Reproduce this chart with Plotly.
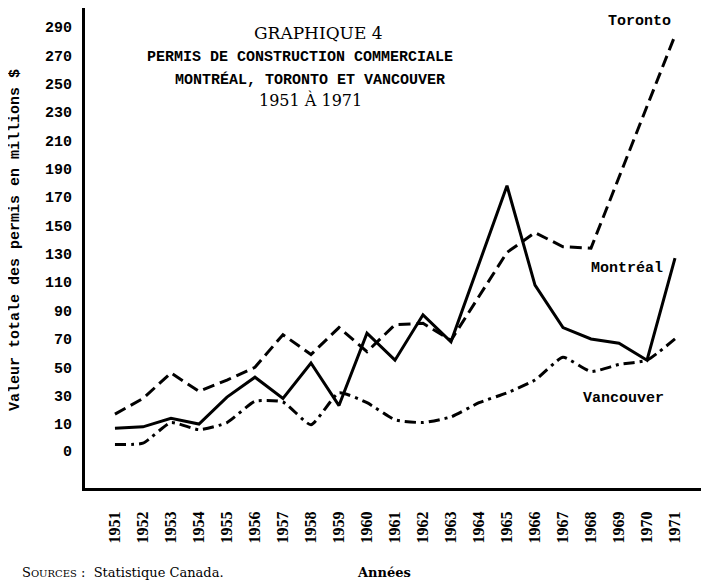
import plotly.graph_objects as go

years = list(range(1951, 1972))
montreal = [7, 8, 14, 10, 29, 43, 28, 53, 23, 74, 55, 87, 68, 123, 178, 108, 78, 70, 67, 55, 127]
toronto = [17, 28, 46, 33, 41, 50, 73, 59, 78, 61, 80, 81, 69, 100, 131, 145, 135, 134, 184, 235, 284]
vancouver = [-4.5, -3.5, 11, 6, 11, 26, 25.5, 9.5, 32, 25, 13, 11, 15, 25, 32, 41, 57, 47, 52, 55, 70]

ytick_vals = [-9, 10, 30, 50, 70, 90, 110, 130, 150, 170, 190, 210, 230, 250, 270, 290]
ytick_text = ["0"] + [str(v) for v in ytick_vals[1:]]

# page is rendered with the default 8px body margin
OFF = 8
W, H = 709 - OFF, 582 - OFF
L, R, T, B = 85, 703, 8, 488  # page pixel coords of the plot area

def xp(px):
    return (px - L) / (R - L)

def yp(py):
    return (B - py) / (B - T)

mono = "Liberation Mono"
serif = "DejaVu Serif"

fig = go.Figure()
fig.add_trace(go.Scatter(x=years, y=montreal, mode="lines", name="Montréal",
                         line=dict(color="black", width=3)))
fig.add_trace(go.Scatter(x=years, y=toronto, mode="lines", name="Toronto",
                         line=dict(color="black", width=3, dash="12px,6px")))
fig.add_trace(go.Scatter(x=years, y=vancouver, mode="lines", name="Vancouver",
                         line=dict(color="black", width=3, dash="11px,5px,3px,5px",
                                   shape="spline", smoothing=0.5)))

ann = []
def add(text, px, py, size, family, xanchor="center", bold=False, textangle=0):
    ann.append(dict(text=f"<b>{text}</b>" if bold else text, x=xp(px), y=yp(py),
                    xref="paper", yref="paper", showarrow=False, xanchor=xanchor,
                    yanchor="middle", textangle=textangle,
                    font=dict(size=size, family=family, color="black")))

add("GRAPHIQUE 4", 318, 33, 17, serif)
add("PERMIS DE CONSTRUCTION COMMERCIALE", 300, 58, 15, mono, bold=True)
add("MONTRÉAL, TORONTO ET VANCOUVER", 310, 80, 15, mono, bold=True)
add("1951 À 1971", 310, 100, 16, serif)
add("Toronto", 639, 21, 15, mono, bold=True)
add("Montréal", 627, 268, 15, mono, bold=True)
add("Vancouver", 623, 398, 15, mono, bold=True)
add("Valeur totale des permis en millions $", 16, 240, 15, mono, bold=True, textangle=-90)
add("S<span style='font-size:10px'>OURCES</span> :  Statistique Canada.", 20, 572, 13, serif, xanchor="left")
add("Années", 355, 572, 13, serif, xanchor="left", bold=True)

fig.update_layout(
    width=W, height=H,
    margin=dict(l=L - OFF, r=709 - R, t=T - OFF, b=582 - B),
    paper_bgcolor="white", plot_bgcolor="white",
    showlegend=False,
    annotations=ann,
    xaxis=dict(range=[1949.93, 1972.0], tickmode="array", tickvals=years,
               ticktext=[str(y) for y in years], tickangle=-90,
               tickfont=dict(family="Liberation Serif", size=16, color="black", weight="bold"),
               showline=True, linewidth=3, linecolor="black", showgrid=False,
               zeroline=False, ticks="", ticklabelstandoff=14, automargin=False),
    yaxis=dict(range=[-35.13, 303.37], tickmode="array", tickvals=ytick_vals,
               ticktext=ytick_text,
               tickfont=dict(family=mono, size=15, color="black", weight="bold"),
               showline=True, linewidth=3, linecolor="black", showgrid=False,
               zeroline=False, ticks="", ticklabelstandoff=7, automargin=False),
)

fig.write_html("out.html")
